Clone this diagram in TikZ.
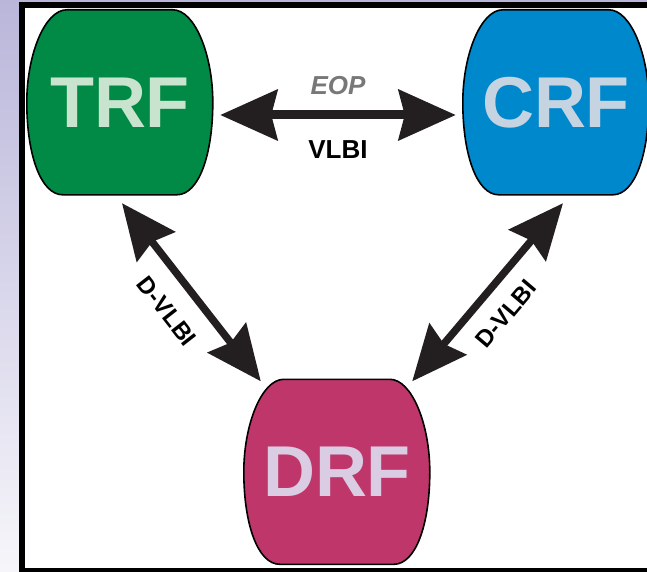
\documentclass[tikz,border=0pt]{standalone}
\usepackage{fontspec}
\setmainfont{Liberation Sans}
\usetikzlibrary{arrows.meta,backgrounds,calc}
\definecolor{trfgreen}{RGB}{0,138,69}
\definecolor{trftext}{RGB}{200,228,206}
\definecolor{crfblue}{RGB}{0,136,204}
\definecolor{crftext}{RGB}{197,212,224}
\definecolor{drfpink}{RGB}{191,54,107}
\definecolor{drftext}{RGB}{218,204,226}
\definecolor{arrowblack}{RGB}{35,31,32}
\definecolor{eopgray}{RGB}{120,120,120}
\definecolor{lavtop}{RGB}{186,182,218}
\definecolor{lavbot}{RGB}{246,246,250}
\newcommand\barrelshape[2]{%
  \begin{scope}[shift={(#1.north west)}]
    \path[barrel, fill=#2] (40,0) -- (146,0)
      .. controls (168,0) and (186,45) .. (186,92.5)
      .. controls (186,145) and (172,185) .. (150,185)
      -- (36,185)
      .. controls (14,185) and (0,145) .. (0,92.5)
      .. controls (0,45) and (18,0) .. (40,0) -- cycle;
  \end{scope}}
\begin{document}
\begin{tikzpicture}[x=1pt,y=-1pt,
  rf/.style={rectangle, inner sep=0pt, minimum width=186pt, minimum height=185pt,
    font=\fontsize{72}{72}\selectfont\bfseries},
  barrel/.style={draw=black, line width=1.6pt},
  link/.style={draw=arrowblack, line width=9pt,
    {Stealth[length=57pt,width=50pt,inset=6pt]}-{Stealth[length=57pt,width=50pt,inset=6pt]}},
  dlink/.style={draw=arrowblack, line width=7.5pt,
    {Stealth[length=55pt,width=48pt,inset=6pt]}-{Stealth[length=55pt,width=48pt,inset=6pt]}},
  lbl/.style={font=\fontsize{26}{26}\selectfont\bfseries, inner sep=0pt},
  dlbl/.style={font=\fontsize{24}{24}\selectfont\bfseries, inner sep=0pt, sloped}]
\useasboundingbox (0,0) rectangle (647,572);

\node[rf, text=trftext] (trf) at (120,102.5) {TRF};
\node[rf, text=crftext] (crf) at (556,102.5) {CRF};
\node[rf, text=drftext] (drf) at (337,472) {DRF};

\begin{scope}[on background layer]
  \shade[top color=lavtop, bottom color=lavbot] (0,0) rectangle (647,572);
  \draw[line width=6pt, fill=white] (22,5) rectangle (700,571);
  \barrelshape{trf}{trfgreen}
  \barrelshape{crf}{crfblue}
  \begin{scope}[shift={(-3,3)}]
    \barrelshape{drf}{drfpink}
  \end{scope}
\end{scope}

\draw[link] ([xshift=7pt,yshift=-12.5pt]trf.east) -- ([xshift=-7pt,yshift=-12.5pt]crf.west)
  node[lbl, pos=0.5, above=16pt, text=eopgray] (eop) {\itshape EOP}
  node[lbl, pos=0.5, below=21pt] (vlbi) {VLBI};

\draw[dlink] ([xshift=2pt,yshift=-8pt]trf.south) -- ([xshift=17pt,yshift=-2pt]drf.north west)
  node[dlbl, pos=0.5, below=19pt] (dl) {D-VLBI};
\draw[dlink] ([xshift=-18pt,yshift=-2pt]drf.north east) -- ([xshift=7pt,yshift=-8pt]crf.south)
  node[dlbl, pos=0.48, below=16pt] (dr) {D-VLBI};
\end{tikzpicture}
\end{document}
